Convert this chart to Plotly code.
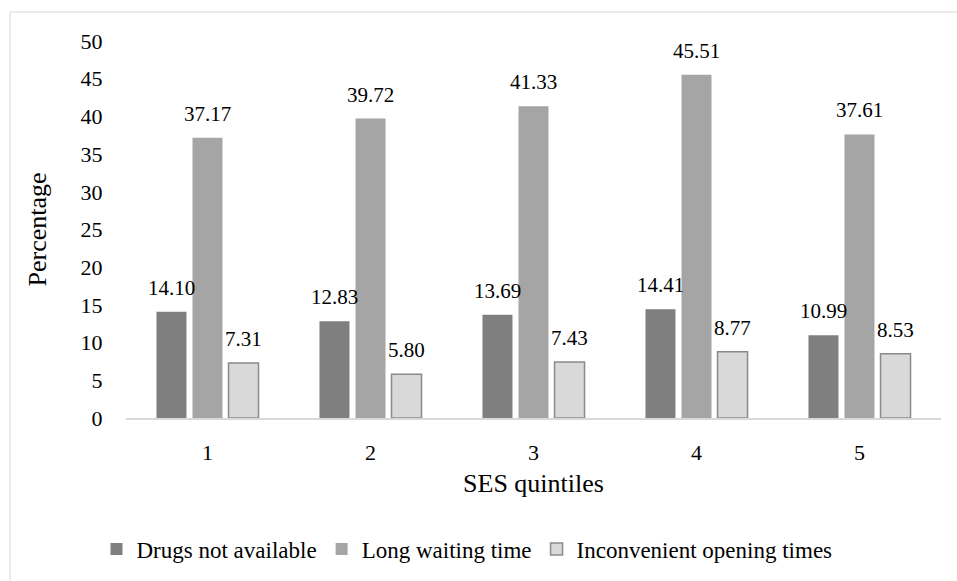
import plotly.graph_objects as go

categories = ["1", "2", "3", "4", "5"]
series_names = ["Drugs not available", "Long waiting time", "Inconvenient opening times"]
drugs = [14.10, 12.83, 13.69, 14.41, 10.99]
waiting = [37.17, 39.72, 41.33, 45.51, 37.61]
opening = [7.31, 5.80, 7.43, 8.77, 8.53]
y_ticks = [0, 5, 10, 15, 20, 25, 30, 35, 40, 45, 50]

series = [drugs, waiting, opening]
fills = ["#7f7f7f", "#a5a5a5", "#d9d9d9"]
lines = ["#7f7f7f", "#a5a5a5", "#8a8a8a"]
line_w = [0, 0, 1.5]
FONT = "Liberation Serif"

fig = go.Figure()
for name, vals, fc, lc, lw in zip(series_names, series, fills, lines, line_w):
    fig.add_trace(go.Bar(
        x=categories, y=vals, name=name,
        marker=dict(color=fc, line=dict(color=lc, width=lw)),
    ))

offsets = [-36, 0, 36]
for vals, off in zip(series, offsets):
    for i, v in enumerate(vals):
        fig.add_annotation(
            x=i, y=v, text=f"{v:.2f}", showarrow=False,
            xshift=off, yshift=10, yanchor="bottom",
            font=dict(family=FONT, size=21, color="#000000"),
        )

# chart outer border
fig.add_shape(type="rect", xref="paper", yref="paper",
              x0=(10 - 126) / 815, x1=(957.5 - 126) / 815,
              y0=-0.5, y1=(418 - 12) / 377,
              line=dict(color="#d9d9d9", width=1), fillcolor="rgba(0,0,0,0)", layer="below")

fig.update_layout(
    width=957, height=581,
    margin=dict(l=126, r=16, t=41, b=163, autoexpand=False),
    paper_bgcolor="white", plot_bgcolor="white",
    barmode="group", bargap=0.337, bargroupgap=0.167,
    font=dict(family=FONT, size=22, color="#000000"),
    showlegend=True,
    legend=dict(orientation="h", x=(467 - 126) / 815, xanchor="center",
                y=(418 - 549) / 377, yanchor="middle",
                font=dict(family=FONT, size=23, color="#000000"),
                itemwidth=30, traceorder="normal"),
    xaxis=dict(
        type="category", range=[-0.5, 4.5],
        showline=True, linecolor="#d9d9d9", linewidth=1.5,
        ticks="outside", ticklen=14, tickcolor="rgba(0,0,0,0)",
        tickfont=dict(family=FONT, size=22, color="#000000"),
        title=dict(text="SES quintiles", font=dict(family=FONT, size=26, color="#000000"), standoff=10),
        showgrid=False, zeroline=False,
    ),
    yaxis=dict(
        range=[0, 50], tickvals=y_ticks, showline=False, showgrid=False, zeroline=False,
        ticks="outside", ticklen=18, tickcolor="rgba(0,0,0,0)",
        tickfont=dict(family=FONT, size=22, color="#000000"),
        title=dict(text="Percentage", font=dict(family=FONT, size=26, color="#000000"), standoff=26),
    ),
)

fig.write_html("out.html")
